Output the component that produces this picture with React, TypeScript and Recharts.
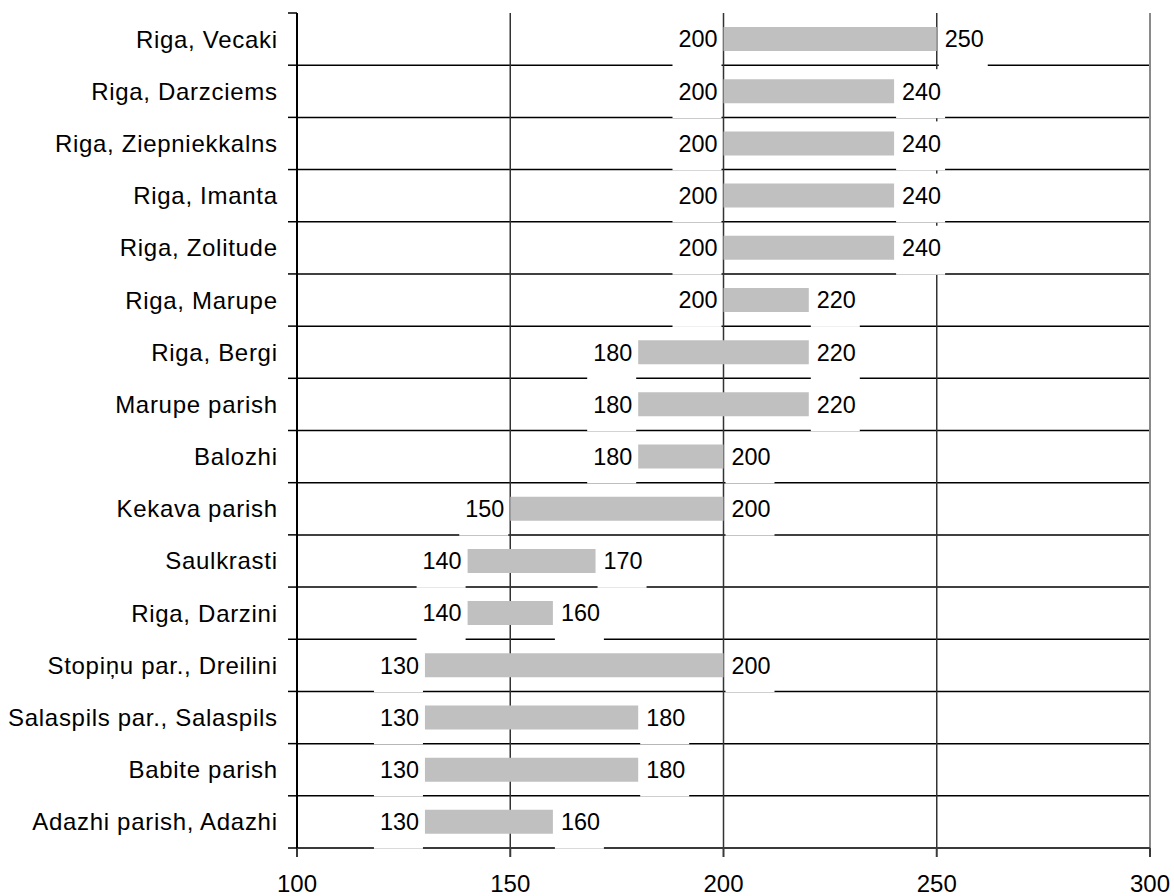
import { BarChart, Bar, XAxis, YAxis, CartesianGrid, LabelList, ReferenceLine } from "recharts";

const categories = [
  "Riga, Vecaki",
  "Riga, Darzciems",
  "Riga, Ziepniekkalns",
  "Riga, Imanta",
  "Riga, Zolitude",
  "Riga, Marupe",
  "Riga, Bergi",
  "Marupe parish",
  "Balozhi",
  "Kekava parish",
  "Saulkrasti",
  "Riga, Darzini",
  "Stopiņu par., Dreilini",
  "Salaspils par., Salaspils",
  "Babite parish",
  "Adazhi parish, Adazhi",
];
const lowValues = [200, 200, 200, 200, 200, 200, 180, 180, 180, 150, 140, 140, 130, 130, 130, 130];
const highValues = [250, 240, 240, 240, 240, 220, 220, 220, 200, 200, 170, 160, 200, 180, 180, 160];
const xTicks = [100, 150, 200, 250, 300];

const data = categories.map((name, i) => ({
  name,
  low: lowValues[i],
  high: highValues[i],
}));

const FONT = '"Liberation Sans", Arial, sans-serif';
const W = 1174;
const H = 896;
const TOP = 13;
const BOTTOM = 848;
const ROW = (BOTTOM - TOP) / categories.length;
const TICK_SIZE = 9;
const TICK_MARGIN = 11;

function CategoryTick(props: any) {
  const { x, y, payload, index } = props;
  const axisX = x + TICK_MARGIN + TICK_SIZE;
  const marks = [y - ROW / 2];
  if (index === categories.length - 1) marks.push(y + ROW / 2);
  return (
    <g>
      {marks.map((m, i) => (
        <line key={i} x1={axisX - TICK_SIZE} x2={axisX} y1={m} y2={m} stroke="#000" strokeWidth={1.5} />
      ))}
      <text
        x={x + 0.7}
        y={y + 8.5}
        textAnchor="end"
        fontSize={24}
        letterSpacing={0.7}
        fontFamily={FONT}
        fill="#000"
      >
        {payload.value}
      </text>
    </g>
  );
}

function boxedLabel(side: "left" | "right") {
  return (props: any) => {
    const vb = props.viewBox || props;
    const bx = Number(vb.x);
    const bw = Number(vb.width);
    const cy = Number(vb.y) + Number(vb.height) / 2;
    const rx = side === "left" ? bx - 51 : bx + bw + 2;
    const tx = side === "left" ? bx - 6 : bx + bw + 8;
    return (
      <g>
        <rect x={rx} y={cy - 22} width={49} height={49} fill="#fff" />
        <text
          x={tx}
          y={cy + 8.4}
          textAnchor={side === "left" ? "end" : "start"}
          fontSize={23.4}
          fontFamily={FONT}
          fill="#000"
        >
          {props.value}
        </text>
      </g>
    );
  };
}

export default function App() {
  return (
    <div style={{ position: "absolute", left: 0, top: 0, width: W, height: H, background: "#fff" }}>
      <BarChart
        width={W}
        height={H}
        data={data}
        layout="vertical"
        margin={{ top: TOP, right: W - 1150, left: 0, bottom: H - BOTTOM - 40 }}
      >
        <CartesianGrid
          vertical={false}
          stroke="#000"
          strokeWidth={1.5}
          horizontalCoordinatesGenerator={({ offset }: any) =>
            categories.slice(1).map((_, i) => offset.top + ((i + 1) * offset.height) / categories.length)
          }
        />
        <CartesianGrid horizontal={false} stroke="#333" strokeWidth={1.5} />
        <XAxis
          type="number"
          domain={[100, 300]}
          ticks={xTicks}
          interval={0}
          height={40}
          axisLine={{ stroke: "#3a3a3a", strokeWidth: 2 }}
          tickLine={{ stroke: "#3a3a3a", strokeWidth: 2 }}
          tickSize={TICK_SIZE}
          tickMargin={18}
          tick={{ fontSize: 24, fontFamily: FONT, fill: "#000" }}
        />
        <XAxis
          xAxisId="top"
          orientation="top"
          type="number"
          domain={[100, 300]}
          height={0}
          tick={false}
          tickLine={false}
          axisLine={{ stroke: "#a6a6a6", strokeWidth: 2 }}
        />
        <YAxis
          type="category"
          dataKey="name"
          width={297}
          interval={0}
          axisLine={{ stroke: "#000", strokeWidth: 2 }}
          tickLine={false}
          tickSize={TICK_SIZE}
          tickMargin={TICK_MARGIN}
          tick={<CategoryTick />}
        />
        <ReferenceLine x={300} stroke="#8a8a8a" strokeWidth={2} />
        <Bar
          dataKey={(d: any) => [d.low, d.high]}
          fill="#c0c0c0"
          barSize={24}
          isAnimationActive={false}
        >
          <LabelList dataKey="low" content={boxedLabel("left")} />
          <LabelList dataKey="high" content={boxedLabel("right")} />
        </Bar>
      </BarChart>
    </div>
  );
}
